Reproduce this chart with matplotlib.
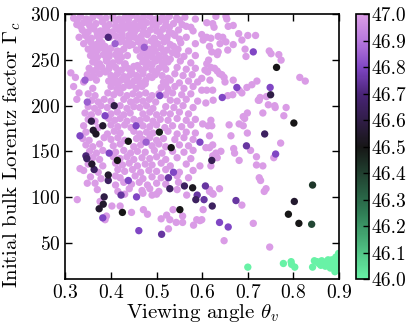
import numpy as np
import matplotlib
matplotlib.use("Agg")
import matplotlib.pyplot as plt
from matplotlib.colors import LinearSegmentedColormap, Normalize
from matplotlib.cm import ScalarMappable

plt.rcParams['font.family'] = 'serif'
plt.rcParams['font.serif'] = ['cmr10', 'DejaVu Serif']
plt.rcParams['mathtext.fontset'] = 'cm'
plt.rcParams['axes.formatter.use_mathtext'] = True

# bulk of the sample, all at the top of the colour scale (47.0)
plum_pts = [
    # y ~ 297
    (0.318, 296), (0.333, 298), (0.346, 295), (0.36, 297), (0.374, 299), (0.389, 296), (0.404, 298),
    (0.418, 295), (0.431, 297), (0.445, 299), (0.458, 296), (0.471, 297), (0.485, 298), (0.499, 295),
    (0.513, 297), (0.528, 298), (0.544, 296), (0.562, 297), (0.585, 295),
    # y ~ 290
    (0.325, 289), (0.34, 291), (0.353, 288), (0.367, 290), (0.381, 292), (0.396, 289), (0.41, 287),
    (0.424, 291), (0.438, 289), (0.451, 290), (0.464, 288), (0.478, 291), (0.492, 289), (0.506, 292),
    (0.52, 288), (0.537, 290), (0.556, 289), (0.575, 286),
    # y ~ 283
    (0.337, 283), (0.35, 281), (0.363, 284), (0.377, 282), (0.39, 284), (0.403, 281), (0.417, 283),
    (0.431, 285), (0.444, 282), (0.457, 284), (0.471, 281), (0.486, 283), (0.5, 282), (0.514, 284),
    (0.528, 281), (0.548, 283), (0.58, 282),
    # y ~ 276
    (0.33, 275), (0.344, 277), (0.357, 274), (0.371, 276), (0.384, 278), (0.397, 275), (0.411, 276),
    (0.425, 274), (0.439, 277), (0.452, 275), (0.466, 276), (0.48, 278), (0.494, 274), (0.509, 276),
    (0.523, 275), (0.54, 277), (0.565, 275),
    # y ~ 269
    (0.34, 268), (0.355, 270), (0.367, 267), (0.38, 269), (0.42, 270), (0.433, 268), (0.447, 267),
    (0.46, 270), (0.474, 269), (0.488, 271), (0.502, 268), (0.516, 270), (0.53, 267), (0.553, 269),
    (0.585, 268),
    # y ~ 262
    (0.35, 262), (0.362, 260), (0.375, 263), (0.388, 261), (0.40, 263), (0.414, 260), (0.428, 262),
    (0.456, 261), (0.47, 259), (0.484, 262), (0.497, 260), (0.51, 263), (0.523, 261), (0.547, 262),
    (0.57, 260),
    # y ~ 255
    (0.355, 255), (0.37, 253), (0.383, 256), (0.396, 254), (0.41, 256), (0.423, 253), (0.436, 255),
    (0.464, 254), (0.478, 256), (0.491, 253), (0.505, 255), (0.519, 253), (0.545, 256), (0.56, 254),
    (0.585, 255),
    # y ~ 248
    (0.36, 248), (0.375, 246), (0.39, 249), (0.404, 247), (0.418, 249), (0.431, 246), (0.47, 248),
    (0.484, 246), (0.498, 249), (0.512, 247), (0.525, 248), (0.552, 249), (0.575, 247),
    # y ~ 241
    (0.352, 241), (0.367, 239), (0.38, 242), (0.395, 240), (0.41, 242), (0.423, 239), (0.437, 241),
    (0.45, 243), (0.463, 240), (0.477, 242), (0.49, 239), (0.505, 241), (0.52, 240), (0.545, 242),
    (0.565, 240), (0.585, 241),
    # y ~ 234
    (0.348, 234), (0.362, 232), (0.375, 235), (0.40, 233), (0.414, 235), (0.428, 232), (0.442, 234),
    (0.456, 233), (0.47, 235), (0.484, 232), (0.497, 234), (0.512, 233), (0.54, 235), (0.558, 233),
    (0.578, 234),
    # y ~ 227
    (0.34, 226), (0.368, 228), (0.395, 227), (0.408, 225), (0.422, 228), (0.436, 226), (0.45, 227),
    (0.463, 225), (0.476, 228), (0.515, 226), (0.53, 228), (0.55, 225), (0.57, 227), (0.59, 226),
    # y ~ 220
    (0.36, 219), (0.40, 221), (0.413, 218), (0.427, 220), (0.44, 222), (0.455, 219), (0.468, 221),
    (0.51, 220), (0.525, 218), (0.54, 221), (0.56, 219), (0.58, 221),
    # y ~ 213
    (0.35, 213), (0.365, 211), (0.393, 214), (0.406, 212), (0.42, 214), (0.435, 211), (0.448, 213),
    (0.462, 212), (0.476, 214), (0.49, 211), (0.505, 213), (0.52, 212), (0.535, 214), (0.555, 212),
    (0.575, 213),
    # y ~ 206
    (0.358, 206), (0.372, 204), (0.385, 207), (0.40, 205), (0.428, 207), (0.443, 204), (0.456, 206),
    (0.47, 205), (0.484, 207), (0.498, 204), (0.53, 206), (0.545, 205), (0.565, 207), (0.59, 205),
    # y ~ 199
    (0.35, 199), (0.364, 197), (0.378, 200), (0.392, 198), (0.42, 200), (0.435, 197), (0.45, 199),
    (0.463, 198), (0.478, 200), (0.492, 197), (0.52, 199), (0.538, 198), (0.558, 200), (0.58, 198),
    # y ~ 192
    (0.343, 192), (0.357, 190), (0.372, 193), (0.40, 191), (0.414, 193), (0.428, 190), (0.442, 192),
    (0.47, 191), (0.485, 193), (0.50, 190), (0.515, 192), (0.53, 191), (0.55, 193), (0.57, 191),
    # y ~ 185
    (0.35, 185), (0.365, 183), (0.395, 186), (0.408, 184), (0.42, 186), (0.435, 183), (0.45, 185),
    (0.464, 184), (0.478, 186), (0.492, 183), (0.508, 185), (0.525, 184), (0.545, 186), (0.565, 184),
    (0.585, 185),
    # y ~ 178
    (0.34, 178), (0.372, 176), (0.40, 179), (0.415, 177), (0.43, 179), (0.444, 176), (0.47, 178),
    (0.485, 177), (0.50, 179), (0.518, 176), (0.535, 178), (0.555, 177), (0.575, 179),
    # y ~ 171
    (0.345, 171), (0.392, 169), (0.407, 172), (0.42, 170), (0.45, 172), (0.463, 169), (0.478, 171),
    (0.492, 170), (0.525, 172), (0.545, 169), (0.565, 171), (0.585, 170),
    # y ~ 164
    (0.338, 164), (0.352, 162), (0.385, 165), (0.40, 163), (0.415, 165), (0.43, 162), (0.456, 164),
    (0.47, 163), (0.485, 165), (0.50, 162), (0.515, 164), (0.54, 163), (0.56, 165), (0.58, 163),
    # y ~ 157
    (0.345, 157), (0.36, 155), (0.375, 158), (0.405, 156), (0.42, 158), (0.45, 155), (0.465, 157),
    (0.49, 156), (0.505, 158), (0.52, 155), (0.55, 157), (0.57, 156),
    # y ~ 150
    (0.353, 150), (0.368, 148), (0.382, 151), (0.41, 149), (0.428, 151), (0.443, 148), (0.458, 150),
    (0.475, 149), (0.495, 151), (0.512, 148), (0.535, 150), (0.56, 149), (0.58, 151),
    # y ~ 143
    (0.36, 143), (0.375, 141), (0.405, 144), (0.42, 142), (0.435, 144), (0.45, 141), (0.468, 143),
    (0.485, 142), (0.50, 144), (0.52, 141), (0.545, 143), (0.575, 142),
    # y ~ 136
    (0.35, 136), (0.382, 134), (0.41, 137), (0.425, 135), (0.44, 137), (0.458, 134), (0.475, 136),
    (0.49, 135), (0.51, 137), (0.53, 134), (0.565, 136),
    # y ~ 129
    (0.34, 129), (0.372, 127), (0.415, 130), (0.43, 128), (0.447, 130), (0.465, 127), (0.483, 129),
    (0.50, 128), (0.52, 130), (0.55, 127), (0.58, 129),
    # y ~ 122
    (0.355, 122), (0.378, 120), (0.41, 123), (0.42, 121), (0.453, 123), (0.47, 120), (0.49, 122),
    (0.51, 121), (0.545, 123), (0.57, 121),
    # y ~ 115
    (0.365, 115), (0.41, 113), (0.428, 116), (0.445, 114), (0.462, 116), (0.48, 113), (0.50, 115),
    (0.52, 114), (0.548, 116),
    # y ~ 108
    (0.37, 108), (0.415, 106), (0.44, 109), (0.468, 107), (0.485, 109), (0.505, 106), (0.545, 108),
    # in-between points of the dense upper block
    (0.326, 294), (0.352, 293), (0.381, 294), (0.41, 293), (0.438, 294), (0.465, 293), (0.492, 294),
    (0.52, 293), (0.55, 294),
    (0.333, 287), (0.36, 286), (0.388, 287), (0.417, 286), (0.444, 287), (0.471, 286), (0.499, 287),
    (0.528, 286), (0.565, 287),
    (0.343, 280), (0.37, 279), (0.397, 280), (0.424, 279), (0.451, 280), (0.478, 279), (0.507, 280),
    (0.535, 279),
    (0.35, 273), (0.375, 272), (0.44, 273), (0.467, 272), (0.495, 273), (0.522, 272), (0.55, 273),
    (0.36, 266), (0.387, 265), (0.44, 266), (0.467, 265), (0.495, 266), (0.537, 265),
    (0.368, 259), (0.395, 258), (0.42, 259), (0.49, 258), (0.516, 259), (0.535, 258),
    (0.365, 252), (0.39, 251), (0.415, 252), (0.477, 251), (0.505, 252), (0.53, 251),
    (0.37, 245), (0.397, 244), (0.43, 245), (0.458, 244), (0.49, 245), (0.515, 244),
    (0.36, 238), (0.388, 237), (0.416, 238), (0.445, 237), (0.47, 238), (0.50, 237),
    (0.355, 231), (0.408, 230), (0.435, 231), (0.46, 230), (0.49, 231), (0.525, 230),
    (0.415, 224), (0.445, 223), (0.475, 224), (0.52, 223),
    (0.312, 236), (0.322, 231), (0.318, 221), (0.33, 214), (0.325, 207),
    # sparse low part
    (0.43, 103), (0.47, 104), (0.49, 102), (0.50, 103),
    (0.402, 90), (0.42, 90), (0.445, 83), (0.471, 86), (0.48, 81), (0.51, 76), (0.522, 80),
    (0.529, 75), (0.536, 86), (0.543, 72), (0.557, 72), (0.557, 79), (0.566, 102), (0.581, 69),
    (0.588, 75), (0.595, 74), (0.387, 75), (0.39, 79), (0.526, 65), (0.332, 131), (0.348, 115),
    (0.326, 97), (0.376, 95),
    # right-hand side
    (0.814, 231), (0.826, 227), (0.747, 260), (0.751, 257), (0.768, 256), (0.773, 250), (0.694, 262),
    (0.696, 254), (0.70, 277), (0.717, 277), (0.680, 279), (0.687, 272), (0.668, 288), (0.657, 287),
    (0.654, 295), (0.652, 298), (0.630, 298), (0.623, 290), (0.626, 286), (0.610, 291), (0.635, 276),
    (0.645, 275), (0.652, 270), (0.668, 267), (0.639, 268), (0.635, 259), (0.656, 261),
    (0.621, 259), (0.616, 265), (0.602, 272), (0.599, 278), (0.610, 275), (0.619, 274), (0.633, 256),
    (0.614, 250), (0.610, 246), (0.606, 239), (0.612, 237), (0.619, 242), (0.627, 241), (0.633, 238),
    (0.638, 235), (0.643, 234), (0.648, 231), (0.650, 226), (0.668, 228), (0.623, 217), (0.610, 217),
    (0.599, 217), (0.698, 220), (0.709, 223), (0.720, 227), (0.687, 214), (0.681, 217), (0.667, 212),
    (0.656, 211), (0.624, 206), (0.608, 203), (0.727, 209), (0.723, 206), (0.741, 210), (0.617, 228),
    (0.599, 230), (0.725, 206), (0.745, 201), (0.759, 200), (0.760, 198), (0.784, 198),
    (0.733, 192), (0.779, 189), (0.699, 192), (0.690, 188), (0.693, 186), (0.659, 179), (0.681, 180),
    (0.690, 178), (0.699, 170), (0.663, 167), (0.616, 167), (0.601, 180), (0.613, 178), (0.621, 178),
    (0.619, 184), (0.772, 159), (0.623, 157), (0.608, 154), (0.616, 154), (0.641, 150), (0.630, 148),
    (0.633, 143), (0.623, 145), (0.669, 153), (0.671, 148), (0.681, 140), (0.706, 151), (0.719, 144),
    (0.719, 135), (0.733, 134), (0.757, 143), (0.619, 134), (0.595, 134), (0.725, 121), (0.728, 118),
    (0.736, 106), (0.740, 109), (0.638, 109), (0.616, 108), (0.622, 104), (0.687, 91), (0.712, 71),
    (0.648, 52), (0.748, 45), (0.602, 86), (0.599, 75), (0.624, 103), (0.616, 106),
]

# points with intermediate colour values: (theta_v, Gamma_c, colour value)
mid_pts = [
    (0.394, 275, 46.7), (0.409, 268, 46.85), (0.473, 264, 46.85), (0.507, 211, 46.8),
    (0.343, 228, 46.85), (0.348, 204, 46.85), (0.407, 200, 46.6), (0.387, 189, 46.8),
    (0.357, 183, 46.6), (0.361, 173, 46.55), (0.367, 169, 46.53), (0.382, 178, 46.55),
    (0.332, 167, 46.8), (0.438, 161, 46.5), (0.414, 140, 46.5), (0.506, 171, 46.48),
    (0.477, 160, 46.85), (0.532, 154, 46.5), (0.345, 145, 46.7), (0.347, 142, 46.65),
    (0.358, 136, 46.55), (0.363, 130, 46.65), (0.394, 124, 46.55), (0.394, 118, 46.65),
    (0.396, 148, 46.8), (0.438, 118, 46.8), (0.455, 178, 46.8), (0.595, 160, 46.8),
    (0.526, 121, 46.75), (0.529, 109, 46.65), (0.561, 112, 46.65), (0.579, 110, 46.52),
    (0.537, 127, 46.8), (0.385, 100, 46.6), (0.383, 92, 46.55), (0.374, 87, 46.55),
    (0.425, 83, 46.5), (0.382, 77, 46.8), (0.461, 63, 46.8), (0.511, 59, 46.75),
    (0.551, 86, 46.5), (0.422, 102, 46.75), (0.456, 100, 46.8), (0.586, 97, 46.65),
    (0.589, 102, 46.75), (0.801, 181, 46.5), (0.737, 169, 46.65), (0.697, 156, 46.75),
    (0.761, 147, 46.8), (0.621, 140, 46.62), (0.842, 113, 46.42), (0.607, 112, 46.75),
    (0.802, 95, 46.55), (0.789, 81, 46.5), (0.812, 71, 46.5), (0.840, 70, 46.38),
    (0.622, 90, 46.65), (0.604, 97, 46.75), (0.674, 96, 46.75), (0.638, 72, 46.8),
    (0.657, 67, 46.8), (0.763, 242, 46.5), (0.712, 259, 46.8), (0.749, 220, 46.8),
    (0.750, 212, 46.6), (0.676, 220, 46.8), (0.644, 209, 46.8),
]

# low-value group at large viewing angles (46.0)
green_pts = [
    (0.700, 23), (0.778, 27), (0.795, 29), (0.796, 26), (0.803, 23), (0.842, 23), (0.846, 30),
    (0.852, 29), (0.862, 30), (0.867, 27), (0.873, 29), (0.879, 25), (0.884, 31), (0.889, 27),
    (0.893, 34), (0.895, 22), (0.891, 18), (0.860, 25), (0.870, 24), (0.881, 22), (0.899, 29),
    (0.899, 38), (0.856, 27), (0.876, 31), (0.886, 24), (0.897, 25),
]

cbar_ticks = [46.0, 46.1, 46.2, 46.3, 46.4, 46.5, 46.6, 46.7, 46.8, 46.9, 47.0]

theta = np.array([p[0] for p in plum_pts] + [p[0] for p in mid_pts] + [p[0] for p in green_pts])
gamma = np.array([p[1] for p in plum_pts] + [p[1] for p in mid_pts] + [p[1] for p in green_pts])
val = np.array([47.0] * len(plum_pts) + [p[2] for p in mid_pts] + [46.0] * len(green_pts))

order = np.argsort(-val, kind='stable')

cmap = LinearSegmentedColormap.from_list('gbp', [
    (0.0, '#68f2a6'), (0.25, '#2f7d55'), (0.5, '#161616'), (0.7, '#4a2478'),
    (0.8, '#8046c4'), (0.9, '#b678dc'), (1.0, '#da9ce6')])
norm = Normalize(46.0, 47.0)

fig = plt.figure(figsize=(4.15, 3.34), dpi=100)
ax = fig.add_axes([0.1576, 0.1647, 0.6593, 0.7919])
cax = fig.add_axes([0.857, 0.1647, 0.0313, 0.7919])

ax.scatter(theta[order], gamma[order], c=val[order], cmap=cmap, norm=norm, s=28, edgecolors='none')
ax.set_xlim(0.3, 0.9)
ax.set_ylim(10, 300)
ax.set_xticks([0.3, 0.4, 0.5, 0.6, 0.7, 0.8, 0.9])
ax.set_yticks([50, 100, 150, 200, 250, 300])
ax.tick_params(direction='in', top=True, right=True, length=5, width=1, labelsize=14)
for sp in ax.spines.values():
    sp.set_linewidth(1.2)
ax.set_xlabel(r'Viewing angle $\theta_v$', fontsize=15, labelpad=0)
ax.set_ylabel(r'Initial bulk Lorentz factor $\Gamma_c$', fontsize=15)
ax.yaxis.set_label_coords(-0.155, 0.47)

cb = fig.colorbar(ScalarMappable(norm=norm, cmap=cmap), cax=cax, ticks=cbar_ticks)
cb.ax.tick_params(direction='in', length=4, width=1, labelsize=14, pad=2)
cb.ax.set_yticklabels(['%.1f' % t for t in cbar_ticks])
cb.outline.set_linewidth(1.2)

fig.savefig('out.png', dpi=100)
